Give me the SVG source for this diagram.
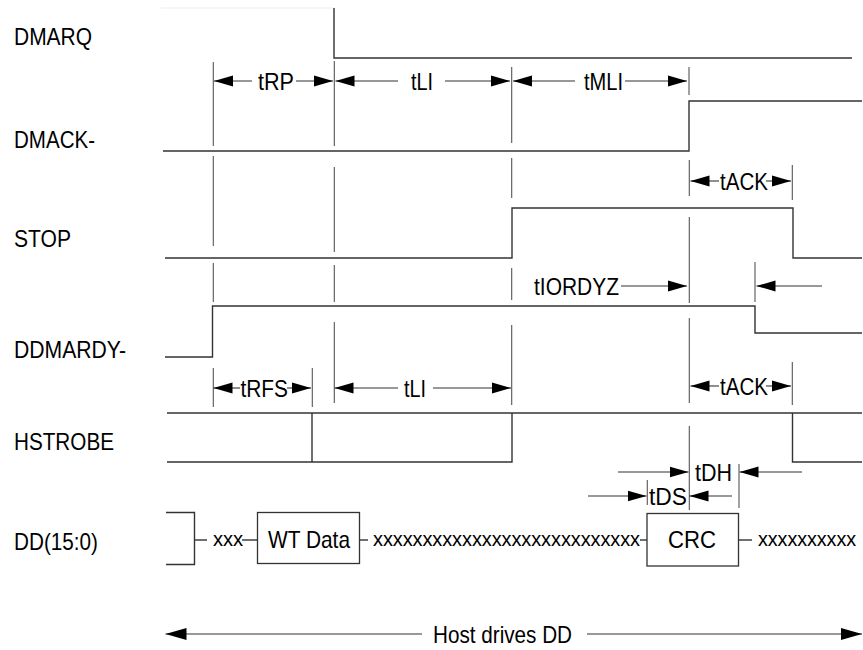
<svg xmlns="http://www.w3.org/2000/svg" width="863" height="650" viewBox="0 0 863 650">
<style>
text{font-family:"Liberation Sans",Arial,sans-serif;font-size:24px;fill:#000}
.x{font-size:20px;letter-spacing:-0.1px}
.w{fill:none;stroke:#333;stroke-width:1.4}
.m{fill:none;stroke:#555;stroke-width:1.1}
.a{fill:none;stroke:#333;stroke-width:1.1}
.ae{marker-end:url(#ah)}
.box{fill:#fff;stroke:#333;stroke-width:1.3}
</style>
<defs>
<marker id="ah" markerUnits="userSpaceOnUse" markerWidth="20" markerHeight="12" refX="19" refY="6" orient="auto">
<path d="M0,0.5 L19,6 L0,11.5 z" fill="#000"/>
</marker>
<marker id="ahl" markerUnits="userSpaceOnUse" markerWidth="22" markerHeight="13" refX="21" refY="6.5" orient="auto">
<path d="M0,0.5 L21,6.5 L0,12.5 z" fill="#000"/>
</marker>
</defs>
<rect width="863" height="650" fill="#fff"/>

<g id="labels">
<text x="14" y="45" textLength="78" lengthAdjust="spacingAndGlyphs">DMARQ</text>
<text x="14" y="148" textLength="81" lengthAdjust="spacingAndGlyphs">DMACK-</text>
<text x="14" y="247" textLength="57" lengthAdjust="spacingAndGlyphs">STOP</text>
<text x="14" y="358" textLength="112" lengthAdjust="spacingAndGlyphs">DDMARDY-</text>
<text x="14" y="450" textLength="100" lengthAdjust="spacingAndGlyphs">HSTROBE</text>
<text x="14" y="550" textLength="84" lengthAdjust="spacingAndGlyphs">DD(15:0)</text>
</g>

<g id="DMARQ">
<path d="M161,8 H334" fill="none" stroke="#eee" stroke-width="1.2"/>
<path class="w" d="M334,8 V58 H852"/>
</g>
<g id="DMACK">
<path class="w" d="M163,151 H689 V101 H862"/>
</g>
<g id="STOP">
<path class="w" d="M165,258 H512 V208 H793 V258 H862"/>
</g>
<g id="DDMARDY">
<path class="w" d="M165,357 H212.5 V306 H755 V333 H862"/>
</g>
<g id="HSTROBE">
<path class="w" d="M167,413 H862"/>
<path class="w" d="M167,462 H512 V413"/>
<path class="w" d="M312,413 V462"/>
<path class="w" d="M792.5,413 V462 H862"/>
</g>
<g id="DD">
<path class="w" d="M166,512.5 H194.5 V564.5 H166"/>
<path class="w" d="M194.5,540 H207"/>
<text class="x" x="213" y="546" textLength="30" lengthAdjust="spacingAndGlyphs">xxx</text>
<path class="w" d="M242,540 H257"/>
<rect class="box" x="257.5" y="512.5" width="102" height="51"/>
<text x="268" y="548" textLength="82" lengthAdjust="spacingAndGlyphs">WT Data</text>
<path class="w" d="M359.5,540 H368"/>
<text class="x" x="373" y="546" textLength="267" lengthAdjust="spacingAndGlyphs">xxxxxxxxxxxxxxxxxxxxxxxxxxx</text>
<path class="w" d="M640,540 H647"/>
<rect class="box" x="647" y="513.5" width="91.5" height="52.5"/>
<text x="668" y="548" textLength="48" lengthAdjust="spacingAndGlyphs">CRC</text>
<path class="w" d="M738.5,540 H752"/>
<text class="x" x="758" y="546" textLength="98" lengthAdjust="spacingAndGlyphs">xxxxxxxxxx</text>
</g>

<g id="markers">
<path class="m" d="M213.3,62 V146 M213.3,156 V246 M213.3,263 V302 M213.3,368 V407"/>
<path class="m" d="M334.3,61 V146 M334.3,167 V252 M334.3,265 V302 M334.3,322 V403"/>
<path class="m" d="M511.7,67 V143 M511.7,158 V198 M511.7,268 V300 M511.7,325 V405"/>
<path class="m" d="M689,67 V95 M689.3,160 V196 M689.3,217 V303 M689.3,318 V403 M689.3,426 V510"/>
<path class="m" d="M792.3,165 V200 M792.3,362 V405"/>
<path class="m" d="M755,262 V302"/>
<path class="m" d="M312.3,368 V407"/>
<path class="m" d="M739,464 V508"/>
<path class="m" d="M647.3,480 V505"/>
</g>

<g id="connectors">
<path class="a ae" d="M252,81 H214"/>
<path class="a ae" d="M296,81 H333"/>
<text x="258" y="90" textLength="36" lengthAdjust="spacingAndGlyphs">tRP</text>
<path class="a ae" d="M398,81 H335.5"/>
<path class="a ae" d="M445,81 H510"/>
<text x="411" y="90" textLength="22" lengthAdjust="spacingAndGlyphs">tLI</text>
<path class="a ae" d="M575,81 H513"/>
<path class="a ae" d="M625,81 H687"/>
<text x="584" y="90" textLength="39" lengthAdjust="spacingAndGlyphs">tMLI</text>
<path class="a ae" d="M719,181 H690.5"/>
<path class="a ae" d="M766,181 H791"/>
<text x="720" y="190" textLength="48" lengthAdjust="spacingAndGlyphs">tACK</text>
<path class="a ae" d="M621,286 H687"/>
<text x="534" y="295" textLength="85" lengthAdjust="spacingAndGlyphs">tIORDYZ</text>
<path class="a ae" d="M822,286 H756.5"/>
<path class="a ae" d="M240,388 H213.5"/>
<path class="a ae" d="M287,388 H311"/>
<text x="240.5" y="397" textLength="47.5" lengthAdjust="spacingAndGlyphs">tRFS</text>
<path class="a ae" d="M398,388 H334.5"/>
<path class="a ae" d="M433,388 H511"/>
<text x="404" y="397" textLength="22" lengthAdjust="spacingAndGlyphs">tLI</text>
<path class="a ae" d="M719,386 H690.5"/>
<path class="a ae" d="M766,386 H791"/>
<text x="720" y="395" textLength="48" lengthAdjust="spacingAndGlyphs">tACK</text>
<path class="a ae" d="M618,472 H688.5"/>
<path class="a ae" d="M802,472 H739.5"/>
<text x="695" y="481" textLength="37" lengthAdjust="spacingAndGlyphs">tDH</text>
<path class="a ae" d="M588,496 H646.5"/>
<path class="a ae" d="M732,496 H689.5"/>
<text x="649" y="505" textLength="38" lengthAdjust="spacingAndGlyphs">tDS</text>
<path class="a" style="marker-end:url(#ahl)" d="M422,634 H165.5"/>
<path class="a" style="marker-end:url(#ahl)" d="M587,634 H862"/>
<text x="433" y="643" textLength="139" lengthAdjust="spacingAndGlyphs">Host drives DD</text>
</g>
</svg>
